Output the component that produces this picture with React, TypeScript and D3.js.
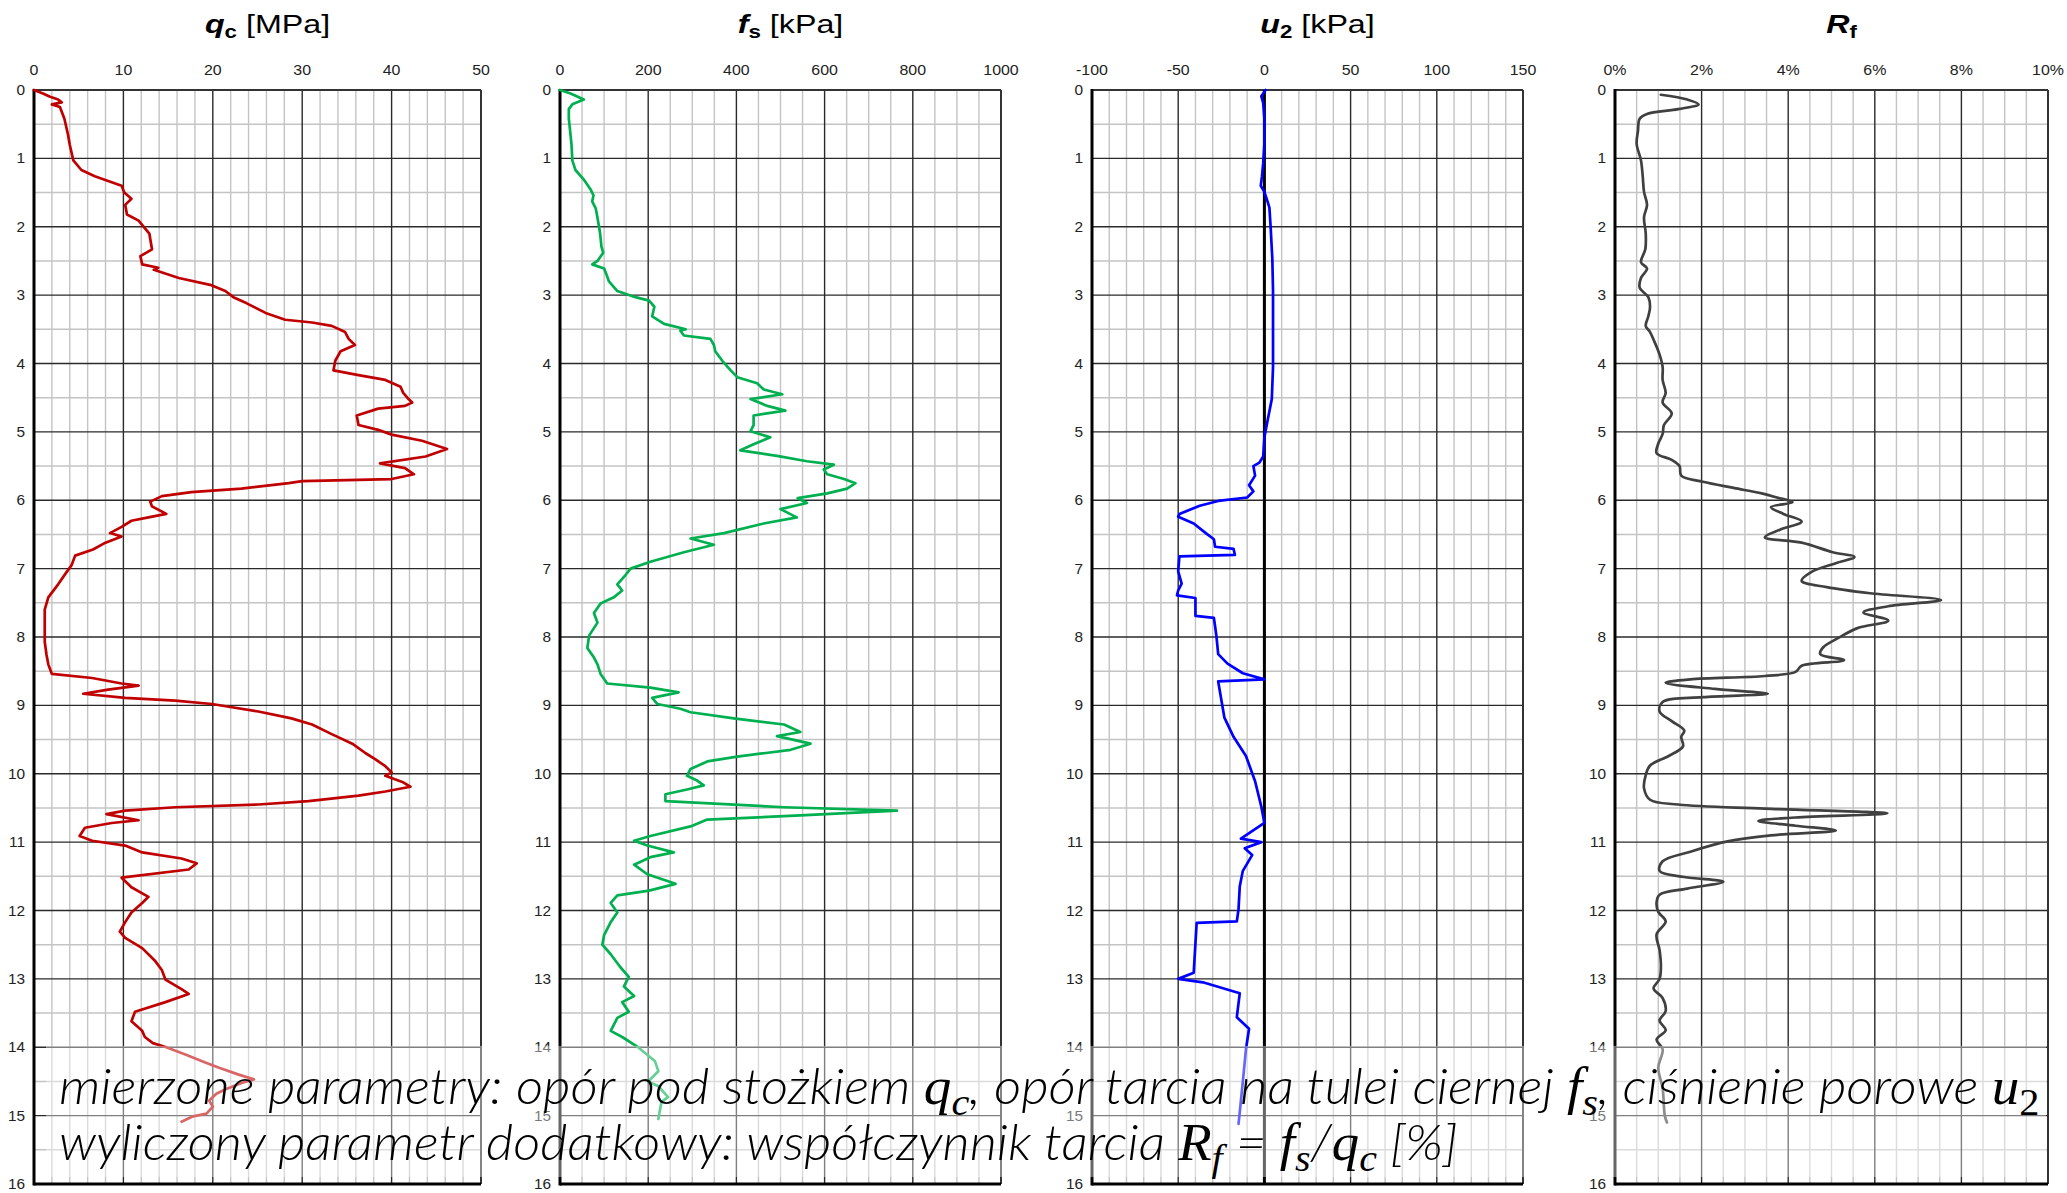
import React, { useEffect, useRef } from 'react';
import * as d3 from 'd3';

// depth [m] + value pairs
const qcDepth = [0, 0.05, 0.1, 0.14, 0.18, 0.21, 0.25, 0.42, 0.65, 0.8, 1.03, 1.17, 1.26, 1.33, 1.4, 1.5, 1.59, 1.68, 1.82, 1.91, 2.1, 2.33, 2.43, 2.55, 2.6, 2.63, 2.75, 2.85, 2.94, 3.03, 3.12, 3.26, 3.36, 3.4, 3.45, 3.54, 3.64, 3.73, 3.82, 3.96, 4.1, 4.17, 4.24, 4.34, 4.43, 4.52, 4.57, 4.62, 4.66, 4.76, 4.9, 4.97, 5.04, 5.13, 5.25, 5.36, 5.46, 5.53, 5.62, 5.69, 5.72, 5.75, 5.83, 5.88, 5.94, 6.02, 6.09, 6.2, 6.25, 6.3, 6.39, 6.48, 6.53, 6.62, 6.72, 6.81, 6.95, 7.04, 7.23, 7.42, 7.6, 7.88, 8.07, 8.26, 8.4, 8.54, 8.6, 8.68, 8.71, 8.77, 8.83, 8.89, 8.93, 8.98, 9.09, 9.19, 9.28, 9.42, 9.56, 9.7, 9.79, 9.89, 9.98, 10.03, 10.12, 10.19, 10.26, 10.32, 10.4, 10.45, 10.49, 10.54, 10.59, 10.68, 10.72, 10.79, 10.91, 10.98, 11.05, 11.15, 11.24, 11.31, 11.4, 11.52, 11.66, 11.8, 11.89, 12.03, 12.17, 12.31, 12.4, 12.55, 12.73, 12.87, 13.01, 13.15, 13.22, 13.34, 13.48, 13.62, 13.76, 13.85, 13.94, 14.0, 14.11, 14.23, 14.3, 14.4, 14.47, 14.52, 14.61, 14.68, 14.78, 14.87, 14.97, 15.01, 15.09];
const qcValues = [0, 1.0, 1.8, 2.7, 3.1, 2.0, 2.9, 3.4, 3.8, 4.0, 4.4, 5.3, 6.8, 8.3, 9.8, 10.1, 10.9, 10.2, 10.4, 11.7, 12.9, 13.2, 11.9, 12.1, 13.9, 13.4, 16.2, 19.7, 21.4, 22.3, 23.8, 25.9, 28.1, 31.1, 33.3, 34.8, 35.2, 35.9, 34.3, 33.7, 33.5, 36.3, 39.3, 41.0, 41.3, 41.9, 42.3, 41.5, 38.5, 36.1, 36.3, 38.5, 40.0, 43.4, 46.2, 43.8, 38.7, 41.5, 42.5, 40.0, 30.0, 28.5, 23.2, 17.6, 14.3, 13.0, 13.2, 14.8, 12.8, 10.9, 9.8, 8.5, 9.8, 8.0, 6.6, 4.6, 4.2, 3.7, 2.7, 1.6, 1.2, 1.2, 1.2, 1.4, 1.6, 2.0, 6.5, 9.8, 11.7, 8.3, 5.5, 10.2, 15.8, 19.9, 25.1, 28.8, 31.1, 33.3, 35.6, 37.1, 38.2, 39.3, 40.0, 39.3, 41.2, 42.1, 39.3, 36.3, 30.7, 25.1, 15.8, 10.2, 8.1, 11.7, 8.7, 5.7, 5.1, 6.5, 10.2, 12.1, 16.5, 18.2, 17.3, 9.8, 10.9, 12.8, 12.1, 10.9, 10.2, 9.6, 10.2, 12.1, 13.5, 14.3, 14.7, 16.5, 17.3, 14.7, 11.3, 10.9, 12.1, 12.4, 13.3, 14.8, 17.0, 19.3, 20.7, 22.9, 24.6, 23.3, 21.5, 20.4, 19.6, 20.0, 19.3, 17.8, 16.5];

const fsDepth = [0, 0.05, 0.14, 0.21, 0.28, 0.42, 0.6, 0.79, 1.03, 1.17, 1.31, 1.45, 1.54, 1.63, 1.73, 1.87, 2.1, 2.29, 2.38, 2.5, 2.55, 2.61, 2.71, 2.8, 2.94, 3.03, 3.08, 3.17, 3.31, 3.42, 3.5, 3.52, 3.59, 3.64, 3.73, 3.82, 3.96, 4.1, 4.2, 4.29, 4.38, 4.45, 4.52, 4.62, 4.69, 4.76, 4.9, 4.99, 5.08, 5.18, 5.27, 5.35, 5.43, 5.48, 5.55, 5.62, 5.69, 5.75, 5.83, 5.9, 5.97, 6.04, 6.13, 6.25, 6.34, 6.48, 6.56, 6.65, 6.76, 6.9, 7.0, 7.09, 7.23, 7.32, 7.42, 7.51, 7.65, 7.79, 7.98, 8.16, 8.3, 8.4, 8.54, 8.68, 8.74, 8.81, 8.89, 8.98, 9.05, 9.1, 9.19, 9.28, 9.39, 9.45, 9.56, 9.65, 9.75, 9.82, 9.93, 10.03, 10.1, 10.17, 10.23, 10.3, 10.4, 10.49, 10.54, 10.61, 10.67, 10.77, 10.91, 10.98, 11.05, 11.15, 11.22, 11.33, 11.47, 11.61, 11.71, 11.78, 11.89, 12.03, 12.17, 12.36, 12.5, 12.64, 12.83, 12.97, 13.11, 13.25, 13.34, 13.48, 13.57, 13.76, 13.85, 13.99, 14.2, 14.35, 14.5, 14.57, 14.73, 14.8, 15.05];
const fsValues = [0, 24, 54, 28, 20, 20, 23, 26, 28, 35, 54, 69, 76, 73, 81, 85, 91, 94, 98, 85, 73, 100, 106, 111, 130, 171, 202, 214, 209, 236, 285, 273, 281, 341, 349, 352, 368, 387, 402, 447, 462, 504, 432, 470, 511, 439, 439, 432, 477, 439, 409, 492, 560, 621, 598, 606, 644, 670, 651, 606, 539, 560, 500, 537, 462, 372, 296, 349, 281, 205, 160, 149, 130, 141, 122, 92, 77, 85, 66, 62, 77, 85, 92, 107, 205, 269, 209, 221, 273, 296, 394, 508, 545, 492, 568, 523, 402, 334, 296, 288, 311, 326, 288, 239, 239, 508, 764, 545, 334, 296, 205, 168, 198, 258, 205, 168, 198, 262, 202, 130, 115, 130, 115, 100, 96, 115, 137, 156, 145, 168, 141, 156, 130, 115, 141, 175, 215, 223, 200, 223, 245, 230, 223];

const u2Depth = [0, 0.09, 0.19, 0.42, 0.79, 1.07, 1.26, 1.4, 1.49, 1.63, 1.72, 2.0, 2.47, 2.94, 3.59, 4.05, 4.52, 4.8, 5.08, 5.36, 5.45, 5.5, 5.64, 5.78, 5.87, 5.96, 6.01, 6.08, 6.2, 6.24, 6.34, 6.48, 6.57, 6.68, 6.71, 6.8, 6.82, 7.04, 7.22, 7.32, 7.39, 7.43, 7.69, 7.72, 7.97, 8.25, 8.39, 8.53, 8.62, 8.65, 9.18, 9.46, 9.74, 10.11, 10.48, 10.72, 10.81, 10.95, 11.0, 11.09, 11.19, 11.42, 11.65, 11.98, 12.16, 12.18, 12.91, 13.0, 13.05, 13.21, 13.56, 13.73, 14.03, 14.5, 15.0, 15.12];
const u2Values = [0.7, -1.8, -0.7, 0, 0, -0.7, -1.4, -2.1, 0, 1.8, 2.9, 3.6, 4.6, 5.0, 5.0, 5.0, 4.3, 2.1, 0, -0.7, -2.9, -6.4, -5.4, -8.9, -6.4, -10, -26.8, -37.5, -49.3, -50, -41, -34, -29.3, -28.6, -17.9, -17.1, -49.3, -50, -48, -50, -50.7, -40, -40, -29.3, -27.9, -26.8, -21.4, -12.5, 0, -26.8, -23.2, -17.9, -10.7, -5.4, -1.8, 0, -5.4, -13.6, -1.8, -11.4, -7.1, -12.5, -14.3, -15, -16, -39.3, -41, -50, -35.7, -14.3, -16, -8.9, -10.7, -12.5, -14.5, -15];

const rfDepth = [0.07, 0.14, 0.21, 0.28, 0.35, 0.42, 0.6, 0.79, 1.03, 1.26, 1.49, 1.68, 1.86, 2.1, 2.33, 2.52, 2.61, 2.75, 2.89, 3.03, 3.17, 3.31, 3.45, 3.54, 3.68, 3.87, 4.05, 4.24, 4.43, 4.57, 4.73, 4.9, 5.03, 5.17, 5.31, 5.41, 5.5, 5.64, 5.73, 5.82, 5.9, 5.96, 6.03, 6.1, 6.2, 6.31, 6.43, 6.54, 6.62, 6.76, 6.83, 6.92, 7.05, 7.18, 7.27, 7.36, 7.46, 7.55, 7.64, 7.76, 7.87, 8.01, 8.15, 8.25, 8.34, 8.42, 8.51, 8.57, 8.62, 8.67, 8.76, 8.83, 8.88, 8.95, 9.09, 9.23, 9.37, 9.46, 9.6, 9.74, 9.88, 10.02, 10.21, 10.38, 10.45, 10.51, 10.58, 10.64, 10.69, 10.76, 10.83, 10.9, 10.99, 11.14, 11.28, 11.42, 11.51, 11.58, 11.68, 11.77, 11.88, 12.02, 12.16, 12.35, 12.58, 12.82, 13.0, 13.14, 13.28, 13.47, 13.61, 13.75, 13.89, 14.03, 14.3, 14.6, 15.0, 15.1];
const rfValues = [1.06, 1.67, 1.93, 1.46, 0.74, 0.57, 0.53, 0.5, 0.6, 0.64, 0.67, 0.74, 0.67, 0.71, 0.7, 0.6, 0.74, 0.6, 0.57, 0.77, 0.81, 0.77, 0.71, 0.81, 0.91, 1.03, 1.1, 1.1, 1.17, 1.1, 1.31, 1.13, 1.1, 1.0, 0.96, 1.31, 1.49, 1.53, 2.03, 2.74, 3.39, 3.74, 4.1, 3.6, 3.89, 4.31, 3.81, 3.46, 4.31, 5.03, 5.53, 5.1, 4.53, 4.31, 4.89, 5.89, 7.53, 6.31, 5.74, 6.31, 5.6, 5.17, 4.81, 4.74, 5.29, 4.31, 4.17, 3.46, 1.74, 1.17, 2.31, 3.53, 2.03, 1.1, 1.03, 1.31, 1.6, 1.53, 1.57, 1.24, 0.81, 0.71, 0.67, 0.81, 1.46, 3.46, 6.29, 4.17, 3.31, 4.17, 5.1, 3.6, 2.6, 1.74, 1.1, 1.03, 1.6, 2.5, 1.67, 1.03, 0.96, 1.0, 1.17, 0.96, 1.03, 1.06, 1.03, 0.89, 1.1, 1.17, 1.03, 1.17, 0.96, 1.1, 1.0, 1.1, 1.15, 1.2];

// axis tick labels
const depthTicks = [0, 1, 2, 3, 4, 5, 6, 7, 8, 9, 10, 11, 12, 13, 14, 15, 16];
const qcTicks = [0, 10, 20, 30, 40, 50];
const fsTicks = [0, 200, 400, 600, 800, 1000];
const u2Ticks = [-100, -50, 0, 50, 100, 150];
const rfTicks = [0, 2, 4, 6, 8, 10];

const W = 2067;
const H = 1193;
const TOP = 90;
const BOTTOM = 1184;
const SX = 1.24; // titles in the source image are stretched sideways
const TICK_SX = 1.1;

const panels = [
  { depth: qcDepth, values: qcValues, ticks: qcTicks, minor: 2, fmt: (d: number) => `${d}`, x0: 34, x1: 481, color: '#c00000', sym: 'q', sub: 'c', unit: ' [MPa]', smooth: false, zero: false },
  { depth: fsDepth, values: fsValues, ticks: fsTicks, minor: 50, fmt: (d: number) => `${d}`, x0: 560, x1: 1001, color: '#00b050', sym: 'f', sub: 's', unit: ' [kPa]', smooth: false, zero: false },
  { depth: u2Depth, values: u2Values, ticks: u2Ticks, minor: 10, fmt: (d: number) => `${d}`, x0: 1092, x1: 1523, color: '#0000ff', sym: 'u', sub: '2', unit: ' [kPa]', smooth: false, zero: true },
  { depth: rfDepth, values: rfValues, ticks: rfTicks, minor: 0.5, fmt: (d: number) => `${d}%`, x0: 1615, x1: 2048, color: '#404040', sym: 'R', sub: 'f', unit: '', smooth: true, zero: false },
];

type Seg = { t: string; math?: boolean; sub?: boolean; upright?: boolean };
const caption1: Seg[] = [
  { t: 'mierzone parametry: opór pod stożkiem ' },
  { t: 'q', math: true }, { t: 'c', math: true, sub: true },
  { t: ', opór tarcia na tulei ciernej ' },
  { t: 'f', math: true }, { t: 's', math: true, sub: true },
  { t: ', ciśnienie porowe ' },
  { t: 'u', math: true }, { t: '2', math: true, sub: true, upright: true },
];
const caption2: Seg[] = [
  { t: 'wyliczony parametr dodatkowy: współczynnik tarcia ' },
  { t: 'R', math: true }, { t: 'f', math: true, sub: true },
  { t: ' = ' },
  { t: 'f', math: true }, { t: 's', math: true, sub: true },
  { t: '/' },
  { t: 'q', math: true }, { t: 'c', math: true, sub: true },
  { t: ' [%]' },
];

const App = () => {
  const svgRef = useRef<SVGSVGElement>(null);

  useEffect(() => {
    const svg = d3.select(svgRef.current);
    svg.selectAll('*').remove();

    const y = d3.scaleLinear().domain([0, 16]).range([TOP, BOTTOM]);
    const halfDepths = d3.range(0.5, 16, 1);

    panels.forEach((p) => {
      const dom = [p.ticks[0], p.ticks[p.ticks.length - 1]];
      const x = d3.scaleLinear().domain(dom).range([p.x0, p.x1]);
      const g = svg.append('g');
      const minors = d3.range(dom[0], dom[1] + 1e-9, p.minor).filter((v) => !p.ticks.some((t) => Math.abs(t - v) < 1e-9));

      // minor grid
      g.selectAll('.vmin').data(minors).enter().append('line')
        .attr('x1', (d) => x(d)).attr('x2', (d) => x(d))
        .attr('y1', TOP).attr('y2', BOTTOM)
        .attr('stroke', '#c4c4c4').attr('stroke-width', 1.4);
      g.selectAll('.hmin').data(halfDepths).enter().append('line')
        .attr('x1', p.x0).attr('x2', p.x1)
        .attr('y1', (d) => y(d)).attr('y2', (d) => y(d))
        .attr('stroke', '#c4c4c4').attr('stroke-width', 1.4);

      // major grid
      g.selectAll('.vmaj').data(p.ticks.slice(1, -1)).enter().append('line')
        .attr('x1', (d) => x(d)).attr('x2', (d) => x(d))
        .attr('y1', TOP).attr('y2', BOTTOM)
        .attr('stroke', '#2a2a2a').attr('stroke-width', 1.4);
      g.selectAll('.hmaj').data(depthTicks.slice(1, -1)).enter().append('line')
        .attr('x1', p.x0).attr('x2', p.x1)
        .attr('y1', (d) => y(d)).attr('y2', (d) => y(d))
        .attr('stroke', '#2a2a2a').attr('stroke-width', 1.4);

      // frame
      g.append('line').attr('x1', p.x0).attr('x2', p.x1).attr('y1', TOP).attr('y2', TOP)
        .attr('stroke', '#333').attr('stroke-width', 2);
      g.append('line').attr('x1', p.x1).attr('x2', p.x1).attr('y1', TOP).attr('y2', BOTTOM)
        .attr('stroke', '#333').attr('stroke-width', 2);
      g.append('line').attr('x1', p.x0).attr('x2', p.x1).attr('y1', BOTTOM).attr('y2', BOTTOM)
        .attr('stroke', '#000').attr('stroke-width', 3);
      g.append('line').attr('x1', p.x0).attr('x2', p.x0).attr('y1', TOP - 1).attr('y2', BOTTOM + 1.5)
        .attr('stroke', '#000').attr('stroke-width', 3);

      if (p.zero) {
        g.append('line').attr('x1', x(0)).attr('x2', x(0)).attr('y1', TOP).attr('y2', BOTTOM)
          .attr('stroke', '#000').attr('stroke-width', 3);
      }

      // curve
      const pts = p.depth.map((d, i) => [p.values[i], d] as [number, number]);
      const line = d3.line<[number, number]>()
        .x((d) => x(d[0]))
        .y((d) => y(d[1]))
        .curve(p.smooth ? d3.curveCatmullRom.alpha(0.5) : d3.curveLinear);
      g.append('path').attr('d', line(pts))
        .attr('fill', 'none').attr('stroke', p.color).attr('stroke-width', 2.7)
        .attr('stroke-linejoin', 'round').attr('stroke-linecap', 'round');

      // top tick labels
      g.selectAll('.tl').data(p.ticks).enter().append('text')
        .attr('transform', (d) => `translate(${x(d)},75) scale(${TICK_SX},1)`)
        .attr('text-anchor', 'middle')
        .attr('font-family', '"Liberation Sans", Arial, sans-serif')
        .attr('font-size', 14.5).attr('fill', '#222')
        .text((d) => p.fmt(d));

      // depth labels
      g.selectAll('.dl').data(depthTicks).enter().append('text')
        .attr('transform', (d) => `translate(${p.x0 - 9},${y(d) + 5}) scale(${TICK_SX},1)`)
        .attr('text-anchor', 'end')
        .attr('font-family', '"Liberation Sans", Arial, sans-serif')
        .attr('font-size', 14).attr('fill', '#222')
        .text((d) => `${d}`);

      // panel title
      const title = g.append('text')
        .attr('transform', `translate(${(p.x0 + p.x1) / 2 + 10},33) scale(${SX},1)`)
        .attr('text-anchor', 'middle')
        .attr('font-family', '"Liberation Sans", Arial, sans-serif')
        .attr('font-size', 26).attr('fill', '#000');
      title.append('tspan').attr('font-weight', 'bold').attr('font-style', 'italic').text(p.sym);
      title.append('tspan').attr('font-weight', 'bold').attr('font-size', 18).attr('dy', 5).text(p.sub);
      if (p.unit) title.append('tspan').attr('dy', -5).style('white-space', 'pre').text(p.unit);
    });

    // semi-transparent caption box over the bottom of the logs
    svg.append('rect')
      .attr('x', 46).attr('y', y(13.98)).attr('width', 2000).attr('height', 1177 - y(13.98))
      .attr('fill', '#fff').attr('opacity', 0.4);

    const drawCaption = (segs: Seg[], baseY: number, targetW: number) => {
      const t = svg.append('text')
        .attr('x', 0).attr('y', 0)
        .attr('font-family', 'Lato, "Open Sans", sans-serif')
        .attr('font-style', 'italic').attr('font-weight', 300)
        .attr('font-size', 50).attr('fill', '#000')
        .style('white-space', 'pre');
      let shifted = false;
      segs.forEach((s) => {
        const ts = t.append('tspan').text(s.t);
        if (s.math) {
          ts.attr('font-family', '"Liberation Serif", "DejaVu Serif", serif')
            .attr('font-weight', 400)
            .attr('font-style', s.upright ? 'normal' : 'italic')
            .attr('font-size', s.sub ? 38 : 52);
        }
        if (s.sub && !shifted) { ts.attr('dy', 11); shifted = true; }
        else if (!s.sub && shifted) { ts.attr('dy', -11); shifted = false; }
      });
      const node = t.node() as SVGTextElement;
      const w = node.getBBox().width || targetW;
      t.attr('transform', `translate(59,${baseY}) scale(${targetW / w},1)`);
    };
    drawCaption(caption1, 1104, 1981);
    drawCaption(caption2, 1160, 1399);
  }, []);

  return (
    <svg ref={svgRef} width={W} height={H}
      style={{ position: 'absolute', left: 0, top: 0, background: '#fff' }} />
  );
};

export default App;
